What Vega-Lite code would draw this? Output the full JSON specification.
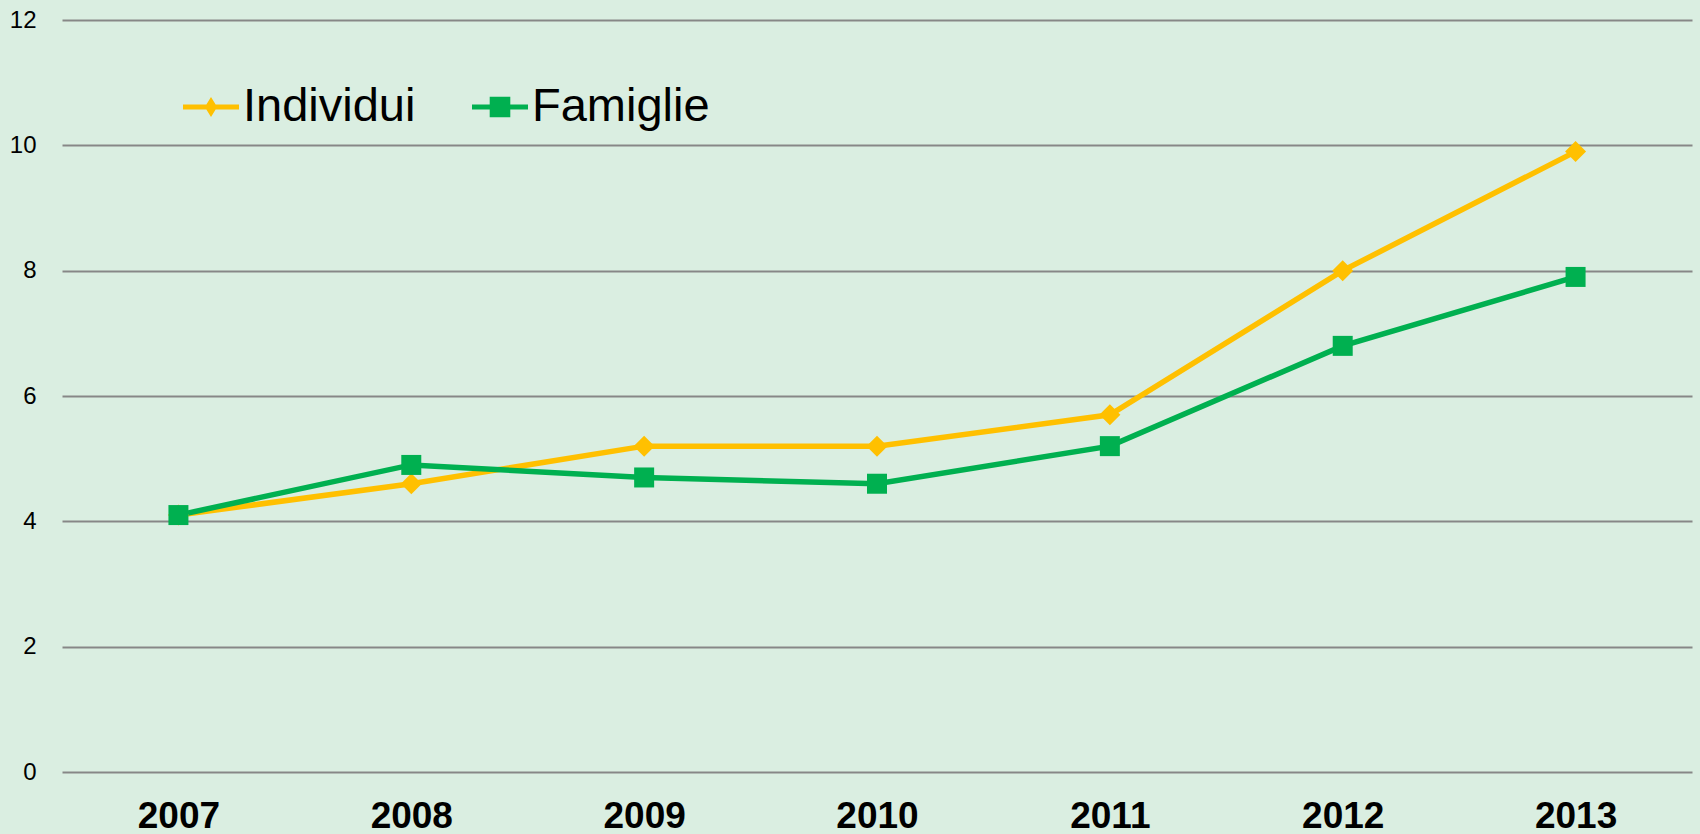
{
  "$schema": "https://vega.github.io/schema/vega-lite/v6.json",
  "autosize": {"type": "none"},
  "width": 1630,
  "height": 752,
  "padding": {"left": 62, "top": 20, "right": 8, "bottom": 62},
  "background": "#DAEEE1",
  "config": {"view": {"stroke": null}},
  "data": {
    "values": [
      {"year": "2007", "series": "Individui", "value": 4.1},
      {"year": "2008", "series": "Individui", "value": 4.6},
      {"year": "2009", "series": "Individui", "value": 5.2},
      {"year": "2010", "series": "Individui", "value": 5.2},
      {"year": "2011", "series": "Individui", "value": 5.7},
      {"year": "2012", "series": "Individui", "value": 8.0},
      {"year": "2013", "series": "Individui", "value": 9.9},
      {"year": "2007", "series": "Famiglie", "value": 4.1},
      {"year": "2008", "series": "Famiglie", "value": 4.9},
      {"year": "2009", "series": "Famiglie", "value": 4.7},
      {"year": "2010", "series": "Famiglie", "value": 4.6},
      {"year": "2011", "series": "Famiglie", "value": 5.2},
      {"year": "2012", "series": "Famiglie", "value": 6.8},
      {"year": "2013", "series": "Famiglie", "value": 7.9}
    ]
  },
  "encoding": {
    "x": {
      "field": "year", "type": "nominal", "title": null,
      "scale": {"type": "point", "padding": 0.5},
      "axis": {
        "labelAngle": 0, "domain": false, "ticks": false, "grid": false,
        "labelFont": "Liberation Sans", "labelFontSize": 37, "labelFontWeight": "bold",
        "labelColor": "#000000", "labelPadding": 26, "labelBaseline": "top"
      }
    },
    "y": {
      "field": "value", "type": "quantitative", "title": null,
      "scale": {"domain": [0, 12], "nice": false},
      "axis": {
        "values": [0, 2, 4, 6, 8, 10, 12], "domain": false, "ticks": false,
        "grid": true, "gridColor": "#878787", "gridWidth": 2, "gridOpacity": 1,
        "labelFont": "Liberation Sans Narrow, Liberation Sans", "labelFontSize": 24,
        "labelColor": "#000000", "labelPadding": 26
      }
    },
    "color": {
      "field": "series", "type": "nominal",
      "scale": {"domain": ["Individui", "Famiglie"], "range": ["#FFC000", "#00B050"]},
      "legend": {
        "title": null, "orient": "none", "direction": "horizontal",
        "legendX": 121, "legendY": 59,
        "labelFont": "Liberation Sans", "labelFontSize": 47, "labelColor": "#000000",
        "labelOffset": 4, "columnPadding": 56, "symbolSize": 3136,
        "symbolStrokeWidth": 0,
        "labelLimit": 400,
        "encode": {
          "symbols": {
            "update": {
              "shape": {"signal": "datum.value === 'Individui' ? 'M-1,-0.09H1V0.09H-1Z M0,-0.36L0.22,0L0,0.36L-0.22,0Z' : 'M-1,-0.09H1V0.09H-1Z M-0.368,-0.368H0.368V0.368H-0.368Z'"},
              "fill": {"signal": "datum.value === 'Individui' ? '#FFC000' : '#00B050'"},
              "fillOpacity": {"value": 1},
              "opacity": {"value": 1},
              "strokeWidth": {"value": 0},
              "size": {"value": 3136}
            }
          }
        }
      }
    }
  },
  "layer": [
    {
      "mark": {"type": "line", "strokeWidth": 5.5}
    },
    {
      "transform": [{"filter": "datum.series === 'Individui'"}],
      "mark": {"type": "point", "shape": "diamond", "size": 441, "filled": true, "opacity": 1, "strokeWidth": 0}
    },
    {
      "transform": [{"filter": "datum.series === 'Famiglie'"}],
      "mark": {"type": "point", "shape": "square", "size": 400, "filled": true, "opacity": 1, "strokeWidth": 0}
    }
  ]
}
